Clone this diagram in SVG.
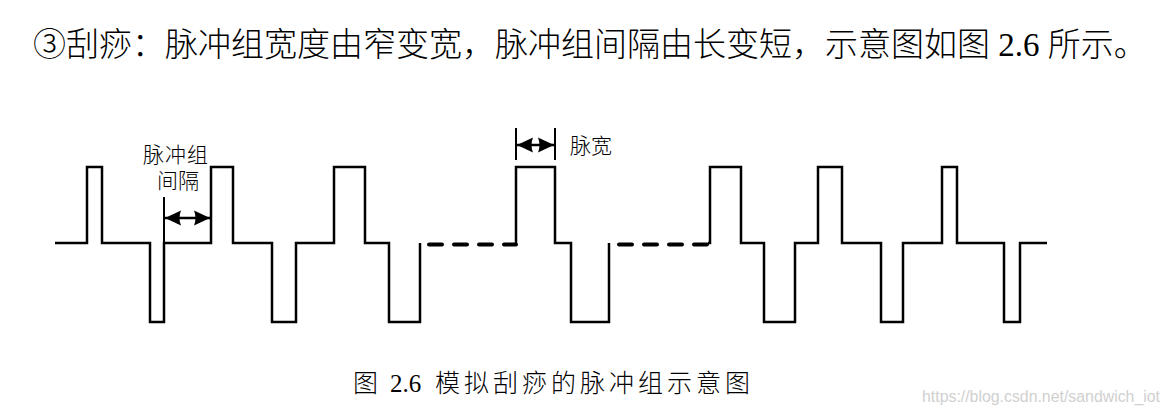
<svg xmlns="http://www.w3.org/2000/svg" width="1170" height="416" viewBox="0 0 1170 416">
  <style>
    .wave { fill: none; stroke: #000; stroke-width: 2.5; stroke-linejoin: miter; stroke-linecap: butt; }
    .dash { fill: none; stroke: #000; stroke-width: 4; stroke-linecap: round; stroke-dasharray: 13 12; }
    .tick { stroke: #000; stroke-width: 2; }
    .arr { stroke: #000; stroke-width: 2.5; fill: none; }
    .cjk { font-family: "Liberation Serif", "Noto Sans CJK SC", serif; fill: #000; font-weight: 300; }
    .wm { font-family: "Liberation Sans", Arial, sans-serif; fill: #d0d0d0; }
  </style>
  <defs>
    <marker id="ah" markerUnits="userSpaceOnUse" markerWidth="16" markerHeight="16" refX="16" refY="8" orient="auto-start-reverse" viewBox="0 0 16 16">
      <path d="M0,0.5 L16,8 L0,15.5 Q3,8 0,0.5 z" fill="#000"/>
    </marker>
  </defs>
  <rect width="1170" height="416" fill="#fff"/>

  <text id="title" class="cjk" x="33" y="56" font-size="33">③刮痧：脉冲组宽度由窄变宽，脉冲组间隔由长变短，示意图如图 2.6 所示。</text>

  <g id="connectors">
    <path class="wave" d="M55,243 H87 V167 H102 V243 H150 V322 H164 V243 H211 V167 H233 V243 H272 V322 H296 V243 H334 V167 H365 V243 H389 V322 H420 V243"/>
    <path class="dash" d="M429,244.5 H516"/>
    <path class="wave" d="M516,243 V167 H555 V243 H571 V322 H609 V243"/>
    <path class="dash" d="M619,244.5 H708"/>
    <path class="wave" d="M708,243 H710 V167 H741 V243 H764 V322 H795 V243 H818 V167 H842 V243 H881 V322 H903 V243 H942 V167 H957 V243 H1004 V322 H1020 V243 H1047"/>
  </g>

  <g id="interval-annotation">
    <line class="tick" x1="164" y1="197" x2="164" y2="243"/>
    <line class="arr" x1="165" y1="218" x2="210" y2="218" marker-start="url(#ah)" marker-end="url(#ah)"/>
    <text class="cjk" x="143" y="162" font-size="21" letter-spacing="1">脉冲组</text>
    <text class="cjk" x="157" y="188" font-size="21">间隔</text>
  </g>

  <g id="width-annotation">
    <line class="tick" x1="516" y1="128" x2="516" y2="160"/>
    <line class="tick" x1="555" y1="128" x2="555" y2="160"/>
    <line class="arr" x1="517" y1="145" x2="554" y2="145" marker-start="url(#ah)" marker-end="url(#ah)"/>
    <text class="cjk" x="570" y="153" font-size="21">脉宽</text>
  </g>

  <g id="caption">
    <text class="cjk" x="353" y="392" font-size="25">图</text>
    <text class="cjk" x="390" y="392" font-size="25">2.6</text>
    <text class="cjk" x="435" y="392" font-size="25" letter-spacing="4">模拟刮痧的脉冲组示意图</text>
  </g>

  <text id="watermark" class="wm" x="922" y="402" font-size="16" textLength="238" lengthAdjust="spacingAndGlyphs">https://blog.csdn.net/sandwich_iot</text>
</svg>
